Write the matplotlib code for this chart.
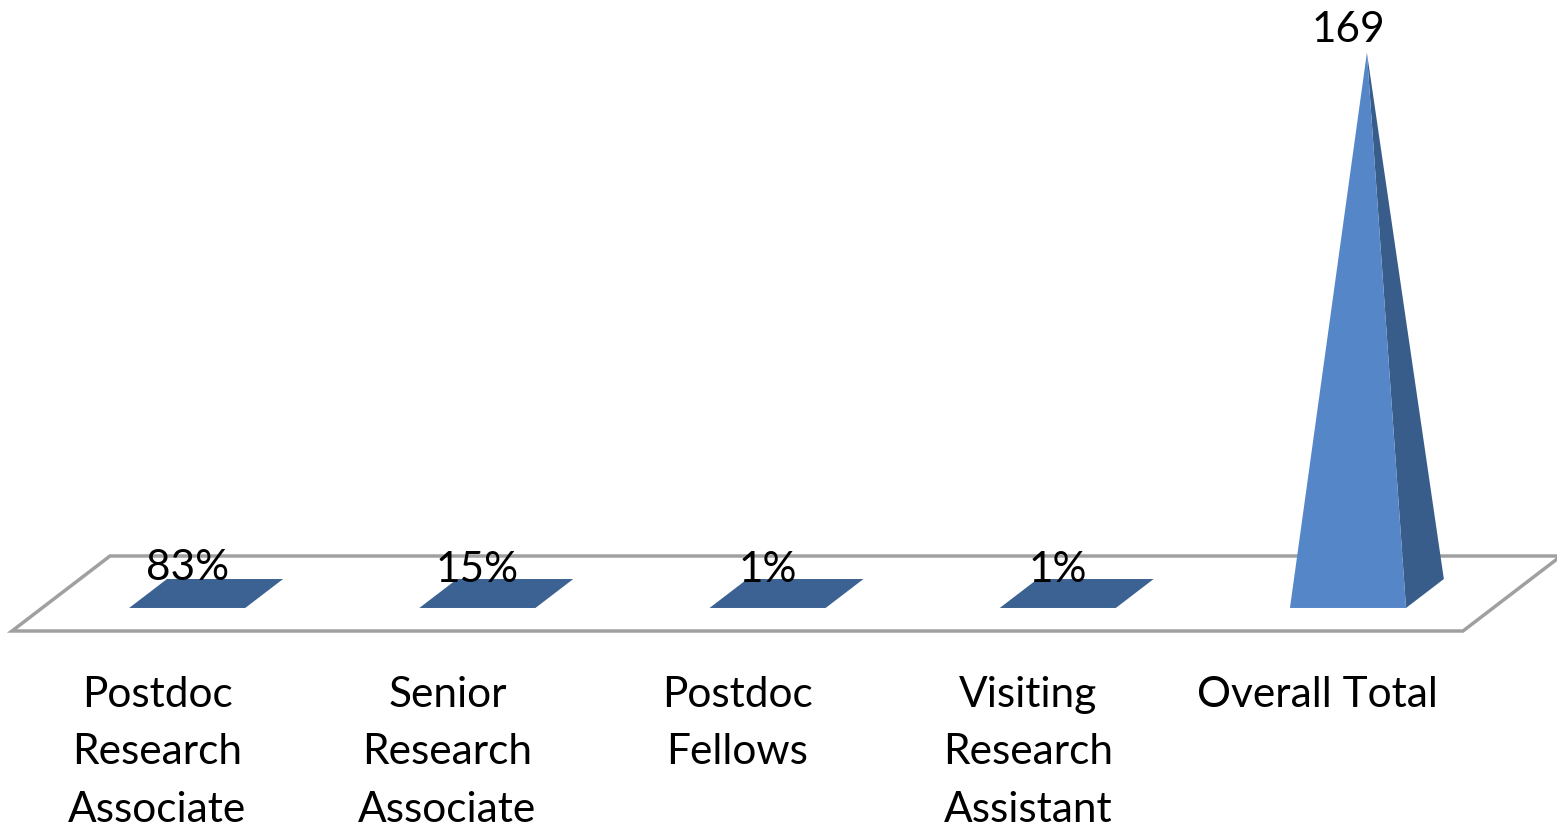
import matplotlib
matplotlib.use("Agg")
import matplotlib.pyplot as plt
from matplotlib.patches import Polygon

categories = ["Postdoc\nResearch\nAssociate", "Senior\nResearch\nAssociate",
              "Postdoc\nFellows", "Visiting\nResearch\nAssistant", "Overall Total"]
values = [0.83, 0.15, 0.01, 0.01, 169]
value_labels = ["83%", "15%", "1%", "1%", "169"]

W, H = 1557, 829
fig = plt.figure(figsize=(W / 100, H / 100), dpi=100)
ax = fig.add_axes([0, 0, 1, 1])
ax.set_xlim(0, W)
ax.set_ylim(H, 0)
ax.axis("off")

# projection of (category position, depth, value) to canvas pixels
x0, y0 = 12, 632          # front-left floor corner
slot = 290.2              # width of one category slot
depth_dx, depth_dy = 98, -75
ymax = 180
yscale = 576 / ymax       # pixels per unit


def proj(u, d, v):
    return (x0 + u * slot + d * depth_dx, y0 + d * depth_dy - v * yscale)


n = len(categories)
floor = [proj(0, 0, 0), proj(n, 0, 0), proj(n, 1, 0), proj(0, 1, 0)]
ax.add_patch(Polygon(floor, closed=True, facecolor="white",
                     edgecolor="#A0A0A0", lw=2.5, zorder=1))

gap = 1.5
bw = 1 / (1 + gap)
front_color = "#5587C8"
side_color = "#385D8A"
flat_color = "#3B6293"
dfront, dback = 0.307, 0.693
fs = 30.5
line_step = 57.5

for i, v in enumerate(values):
    ul = i + 0.5 - bw / 2
    ur = i + 0.5 + bw / 2
    apex = proj(i + 0.5, 0.5, v)
    fl, fr = proj(ul, dfront, 0), proj(ur, dfront, 0)
    bl, br = proj(ul, dback, 0), proj(ur, dback, 0)
    if v < 1:
        ax.add_patch(Polygon([fl, fr, br, bl], closed=True, facecolor=flat_color,
                             edgecolor="none", zorder=2))
    else:
        ax.add_patch(Polygon([fr, br, apex], closed=True, facecolor=side_color,
                             edgecolor="none", zorder=2))
        ax.add_patch(Polygon([fl, fr, apex], closed=True, facecolor=front_color,
                             edgecolor="none", zorder=3))
    ax.text(apex[0] - 19, apex[1] - 12, value_labels[i], ha="center", va="baseline",
            fontsize=fs, family="Lato", color="black", zorder=5)
    cx, _ = proj(i + 0.5, 0, 0)
    for k, line in enumerate(categories[i].split("\n")):
        ax.text(cx, 707 + k * line_step, line, ha="center", va="baseline",
                fontsize=fs, family="Lato", color="black", zorder=5)

fig.savefig("out.png", dpi=100)
